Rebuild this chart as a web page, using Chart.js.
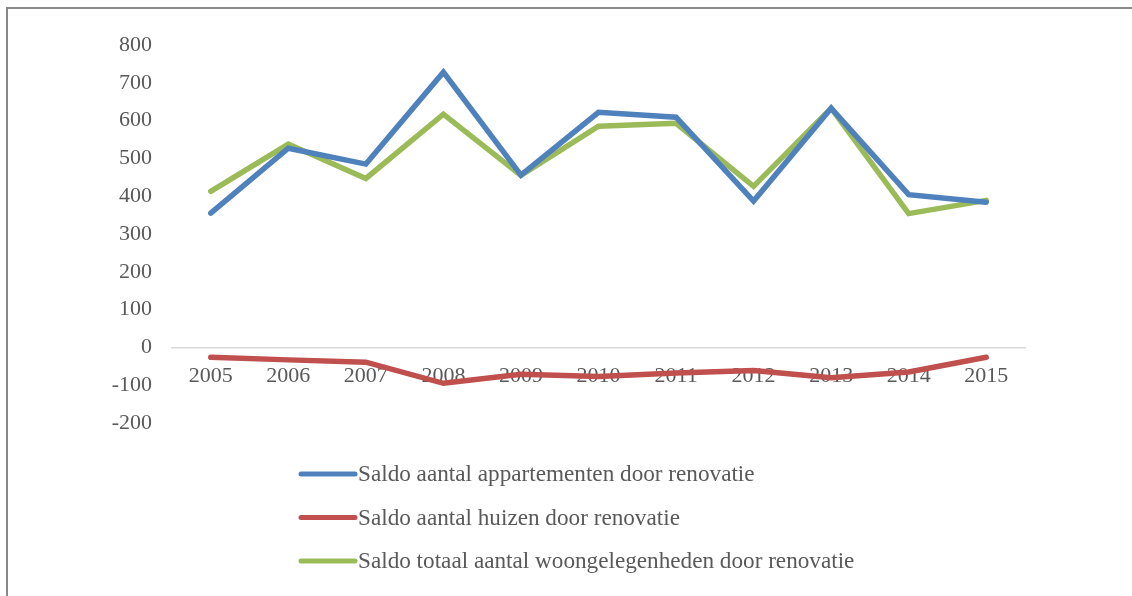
<!DOCTYPE html>
<html lang="nl">
<head>
    <meta charset="UTF-8">
    <title>Saldo door renovatie</title>
    <script src="https://cdn.jsdelivr.net/npm/chart.js"></script>
    <style>
        body { margin: 0; background: #fff; overflow: hidden; }
        #frame { position: absolute; left: 6px; top: 7px; width: 1200px; height: 700px; border: 2px solid #888; }
        #renovatie-chart { position: absolute; left: 0; top: 0; }
    </style>
</head>
<body>
    <div id="frame"></div>
    <canvas id="renovatie-chart" width="1132" height="596"></canvas>

    <script>
        const years = ['2005', '2006', '2007', '2008', '2009', '2010', '2011', '2012', '2013', '2014', '2015'];
        const appartementen = [355, 527, 485, 728, 456, 622, 609, 387, 633, 404, 384];
        const huizen = [-26, -33, -39, -95, -71, -77, -68, -61, -80, -65, -26];
        const totaal = [413, 538, 447, 617, 455, 585, 593, 426, 633, 354, 389];
        const yTicks = [800, 700, 600, 500, 400, 300, 200, 100, 0, -100, -200];

        const textColor = '#595959';
        const serif = "'Liberation Serif', 'DejaVu Serif', serif";

        // legend under the plot, one item per row
        const stackedLegend = {
            id: 'stackedLegend',
            afterDraw(chart) {
                const ctx = chart.ctx;
                ctx.save();
                ctx.font = '23.2px ' + serif;
                ctx.textBaseline = 'middle';
                chart.data.datasets.forEach((ds, i) => {
                    const y = 474 + i * 43.5;
                    ctx.strokeStyle = ds.borderColor;
                    ctx.lineWidth = 5;
                    ctx.lineCap = 'round';
                    ctx.beginPath();
                    ctx.moveTo(301, y);
                    ctx.lineTo(355, y);
                    ctx.stroke();
                    ctx.fillStyle = textColor;
                    ctx.fillText(ds.label, 358, y + 1);
                });
                ctx.restore();
            }
        };

        const ctx = document.getElementById('renovatie-chart').getContext('2d');
        new Chart(ctx, {
            type: 'line',
            data: {
                labels: years,
                datasets: [{
                    label: 'Saldo aantal appartementen door renovatie',
                    borderColor: '#4f81bd',
                    data: appartementen
                }, {
                    label: 'Saldo aantal huizen door renovatie',
                    borderColor: '#c0504d',
                    data: huizen
                }, {
                    label: 'Saldo totaal aantal woongelegenheden door renovatie',
                    borderColor: '#9bbb59',
                    data: totaal
                }]
            },
            options: {
                responsive: false,
                animation: false,
                layout: { padding: { top: 45, right: 107, bottom: 173, left: 0 } },
                elements: {
                    line: { borderWidth: 5.5, borderCapStyle: 'round', tension: 0 },
                    point: { radius: 0, hoverRadius: 0 }
                },
                plugins: {
                    legend: { display: false },
                    tooltip: { enabled: false }
                },
                scales: {
                    x: {
                        position: { y: 0 },
                        offset: true,
                        grid: { display: false, drawTicks: false },
                        border: { display: true, color: '#d9d9d9', width: 1.5 },
                        ticks: { color: textColor, font: { family: serif, size: 22 }, padding: 16, maxRotation: 0 }
                    },
                    y: {
                        min: -200,
                        max: 800,
                        afterFit(scale) { scale.width = 172; },
                        afterBuildTicks(scale) { scale.ticks = yTicks.map(v => ({ value: v })); },
                        grid: { display: false, drawTicks: false },
                        border: { display: false },
                        ticks: { color: textColor, font: { family: serif, size: 22 }, padding: 20 }
                    }
                }
            },
            plugins: [stackedLegend]
        });
    </script>
</body>
</html>
